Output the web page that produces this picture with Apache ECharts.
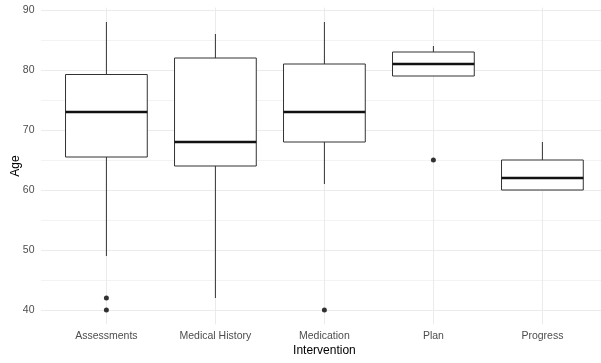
<!DOCTYPE html>
<html>
<head>
<meta charset="utf-8">
<script src="https://cdn.jsdelivr.net/npm/echarts@6/dist/echarts.min.js"></script>
<style>
html,body{margin:0;padding:0;background:#fff;}
#chart{width:601px;height:363px;}
</style>
</head>
<body>
<div id="chart"></div>
<script>
const categories = ['Assessments', 'Medical History', 'Medication', 'Plan', 'Progress'];
const lowerWhisker = [49, 42, 61, 79, 60];
const q1 = [65.5, 64, 68, 79, 60];
const median = [73, 68, 73, 81, 62];
const q3 = [79.25, 82, 81, 83, 65];
const upperWhisker = [88, 86, 88, 84, 68];
const outlierCategory = ['Assessments', 'Assessments', 'Medication', 'Plan'];
const outlierAge = [42, 40, 40, 65];
const yTicks = [40, 50, 60, 70, 80, 90];
const yMinorTicks = [45, 55, 65, 75, 85];

const font = 'Liberation Sans, Arial, sans-serif';
const boxData = categories.map((c, i) => [i + 1, lowerWhisker[i], q1[i], median[i], q3[i], upperWhisker[i]]);
const outlierData = outlierCategory.map((c, i) => [categories.indexOf(c) + 1, outlierAge[i]]);

const chart = echarts.init(document.getElementById('chart'));
chart.setOption({
  animation: false,
  backgroundColor: '#fff',
  grid: { left: 41, top: 7.6, width: 566.8, height: 316.8, containLabel: false, outerBoundsMode: 'none' },
  xAxis: {
    type: 'value', min: 0.4, max: 5.6,
    name: 'Intervention', nameLocation: 'middle', nameGap: 20, nameMoveOverlap: false,
    nameTextStyle: { color: '#000', fontSize: 12, fontFamily: font },
    axisLine: { show: false },
    axisTick: { show: false, customValues: [1, 2, 3, 4, 5] },
    axisLabel: { customValues: [1, 2, 3, 4, 5], formatter: v => categories[Math.round(v) - 1],
      color: '#4d4d4d', fontSize: 10.5, fontFamily: font, margin: 6 },
    splitLine: { show: true, lineStyle: { color: '#ebebeb', width: 1 } }
  },
  yAxis: [{
    type: 'value', min: 37.6, max: 90.4,
    name: 'Age', nameLocation: 'middle', nameGap: 19.5, nameRotate: 90, nameMoveOverlap: false,
    nameTextStyle: { color: '#000', fontSize: 12, fontFamily: font },
    axisLine: { show: false },
    axisTick: { show: false, customValues: yTicks },
    axisLabel: { customValues: yTicks, color: '#4d4d4d', fontSize: 10.5, fontFamily: font, margin: 6.5 },
    splitLine: { show: true, lineStyle: { color: '#ebebeb', width: 1 } }
  }, {
    type: 'value', min: 37.6, max: 90.4, position: 'left',
    axisLine: { show: false },
    axisTick: { show: false, customValues: yMinorTicks },
    axisLabel: { show: false },
    splitLine: { show: true, lineStyle: { color: '#f3f3f3', width: 1 } }
  }],
  series: [{
    type: 'custom',
    data: boxData,
    encode: { x: 0, y: [1, 2, 3, 4, 5] },
    z: 3,
    renderItem: function (params, api) {
      const x = api.value(0);
      const lo = api.coord([x, api.value(1)]);
      const b1 = api.coord([x, api.value(2)]);
      const m = api.coord([x, api.value(3)]);
      const b3 = api.coord([x, api.value(4)]);
      const hi = api.coord([x, api.value(5)]);
      const w = api.size([0.75, 0])[0];
      const cx = lo[0];
      const stroke = { stroke: '#333333', lineWidth: 1 };
      return {
        type: 'group',
        children: [
          { type: 'line', shape: { x1: cx, y1: hi[1], x2: cx, y2: b3[1] }, style: stroke },
          { type: 'line', shape: { x1: cx, y1: b1[1], x2: cx, y2: lo[1] }, style: stroke },
          { type: 'rect', shape: { x: cx - w / 2, y: b3[1], width: w, height: b1[1] - b3[1] },
            style: { fill: '#fff', stroke: '#333333', lineWidth: 1 } },
          { type: 'line', shape: { x1: cx - w / 2, y1: m[1], x2: cx + w / 2, y2: m[1] },
            style: { stroke: '#111111', lineWidth: 2.6 } }
        ]
      };
    }
  }, {
    type: 'scatter',
    data: outlierData,
    symbol: 'circle',
    symbolSize: 5,
    itemStyle: { color: '#000000' },
    z: 4
  }]
});
</script>
</body>
</html>
